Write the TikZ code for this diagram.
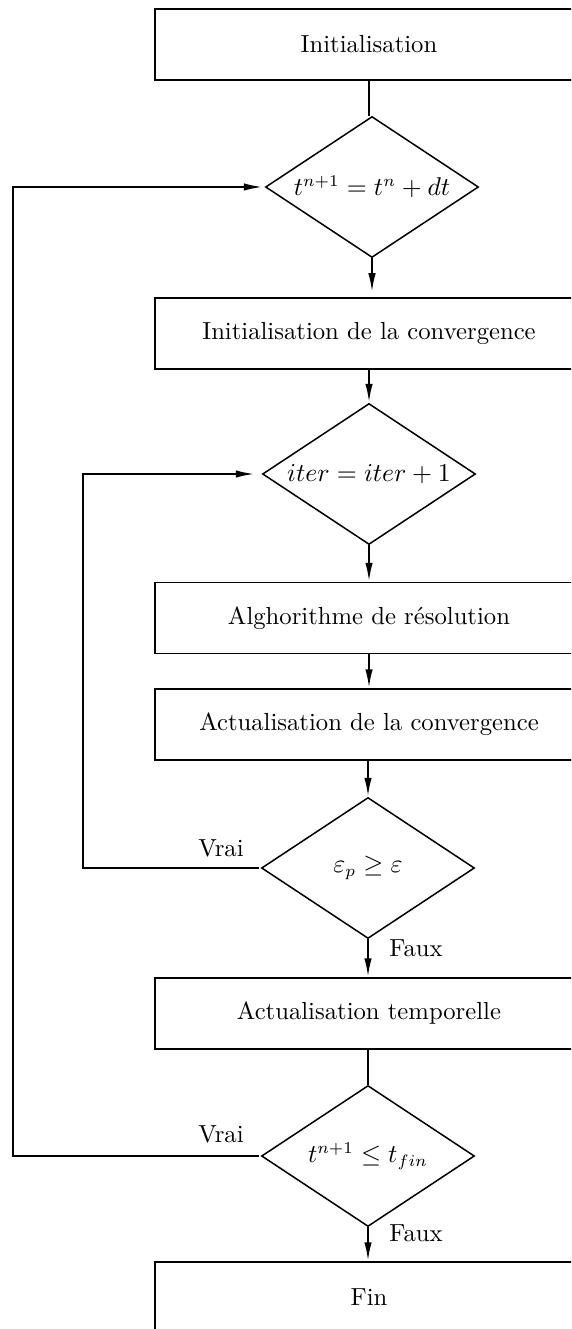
\documentclass[tikz,border=0pt]{standalone}
\usetikzlibrary{shapes.geometric,arrows.meta}
\newcommand\tx[1]{\scalebox{2.35}{\fontsize{10.5}{12}\selectfont #1}}
\tikzset{
  stepbox/.style={draw,rectangle,line width=1.5pt,minimum width=428pt,minimum height=71pt,inner sep=0pt},
  decide/.style={draw,diamond,line width=1.5pt,minimum width=213pt,minimum height=141pt,inner sep=0pt,aspect=1.5},
  conn/.style={line width=1.5pt},
  arr/.style={conn,-{Latex[length=18pt,width=7.5pt]},shorten >=1pt},
  lbl/.style={inner sep=0pt}
}
\begin{document}
\begin{tikzpicture}[x=1pt,y=-1pt]
\clip (0,0) rectangle (571,1329);
\node[stepbox] (init) at (369,44.5) {\tx{Initialisation}};
\node[decide] (d1) at (372,187) {\tx{$t^{n+1} = t^{n} + dt$}};
\node[stepbox] (conv) at (369,333.5) {\tx{Initialisation de la convergence}};
\node[decide] (d2) at (369,474) {\tx{$iter = iter + 1$}};
\node[stepbox] (algo) at (369,618) {\tx{Alghorithme de r\'esolution}};
\node[stepbox] (actc) at (369,724.5) {\tx{Actualisation de la convergence}};
\node[decide] (d3) at (368,868) {\tx{$\varepsilon_{p} \geq \varepsilon$}};
\node[stepbox] (actt) at (369,1013.5) {\tx{Actualisation temporelle}};
\node[decide] (d4) at (368,1156) {\tx{$t^{n+1} \leq t_{fin}$}};
\node[stepbox] (fin) at (369,1297.5) {\tx{Fin}};
\node[lbl] (v1) at (221,848) {\tx{Vrai}};
\node[lbl] (v2) at (221,1134) {\tx{Vrai}};
\node[lbl] (f1) at (416,948) {\tx{Faux}};
\node[lbl] (f2) at (416,1233) {\tx{Faux}};
\coordinate (ol) at (13,0);
\coordinate (il) at (83,0);
\draw[conn] (init.south) -- (init.south |- d1.north);
\draw[arr,shorten >=6pt] (d1.south) -- (d1.south |- conv.north);
\draw[arr] (conv.south -| d2.north) -- (d2.north);
\draw[arr] (d2.south) -- (d2.south |- algo.north);
\draw[arr] (algo.south -| d2.south) -- (actc.north -| d2.south);
\draw[arr] (actc.south -| d3.north) -- (d3.north);
\draw[arr] (d3.south) -- (d3.south |- actt.north);
\draw[conn] (actt.south -| d4.north) -- (d4.north);
\draw[arr] (d4.south) -- (d4.south |- fin.north);
\draw[arr,shorten >=8pt] ([xshift=-2pt]d3.west) -- (d3.west -| il) -- (d2.west -| il) -- (d2.west);
\draw[arr,shorten >=3pt] ([xshift=-2pt]d4.west) -- (d4.west -| ol) -- (d1.west -| ol) -- (d1.west);
\end{tikzpicture}
\end{document}
